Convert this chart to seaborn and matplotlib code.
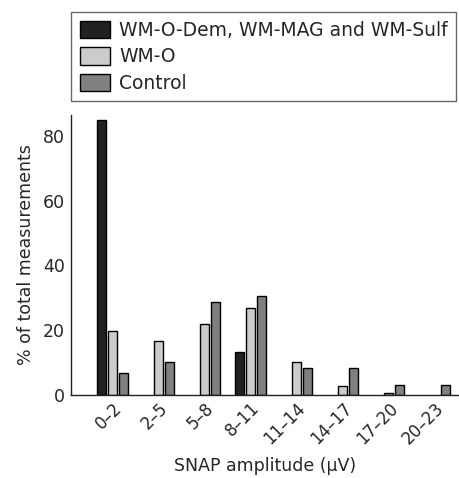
import pandas as pd
import seaborn as sns
import matplotlib.pyplot as plt

ranges = ["0\u20132", "2\u20135", "5\u20138", "8\u201311", "11\u201314", "14\u201317", "17\u201320", "20\u201323"]
groups = ["WM-O-Dem, WM-MAG and WM-Sulf", "WM-O", "Control"]
wm_dem = [85.1, 0, 0, 13.1, 0, 0, 0, 0]
wm_o = [19.6, 16.6, 21.9, 26.9, 10.2, 2.8, 0.6, 0]
control = [6.6, 10.0, 28.8, 30.4, 8.2, 8.2, 3.1, 3.1]
colors = ["#231f20", "#cccccc", "#808080"]

df = pd.concat([
    pd.DataFrame({"range": ranges, "group": g, "pct": v})
    for g, v in zip(groups, [wm_dem, wm_o, control])
])

sns.set_style("white")
plt.rcParams['font.family'] = ['DejaVu Sans']

fig = plt.figure(figsize=(4.6, 4.78), dpi=100)
ax = fig.add_axes([0.1537, 0.1743, 0.846, 0.585])

sns.barplot(data=df, x="range", y="pct", hue="group", hue_order=groups,
            palette=colors, width=0.735, gap=0.22, edgecolor="black",
            linewidth=1, ax=ax, legend=True)

# empty bins show no bar in the original
for cont in ax.containers:
    for p in cont:
        if p.get_height() == 0:
            p.set_visible(False)

ax.set_ylim(0, 86.5)
ax.set_xlim(-0.91, 7.55)
ax.set_yticks([0, 20, 40, 60, 80])
ax.tick_params(axis="y", direction="in", length=10, width=1, color="#333333", labelsize=12.5, pad=4)
ax.tick_params(axis="x", length=0, labelsize=12, pad=3)
for lab in ax.get_xticklabels():
    lab.set_rotation(45)
    lab.set_ha("right")
    lab.set_rotation_mode("anchor")
for s in ["top", "right"]:
    ax.spines[s].set_visible(False)
for s in ["left", "bottom"]:
    ax.spines[s].set_color("#222222")
    ax.spines[s].set_linewidth(1)

ax.set_xlabel("SNAP amplitude (\u03bcV)", fontsize=12.5)
ax.xaxis.set_label_coords(0.5, -0.222)
ax.set_ylabel("% of total measurements", fontsize=12.5, labelpad=6)

handles, labels = ax.get_legend_handles_labels()
ax.legend_.remove()
leg = fig.legend(handles, labels, loc="upper left", bbox_to_anchor=(0.155, 0.974),
                 frameon=True, fancybox=False, fontsize=13.5, handlelength=1.6,
                 handleheight=1.07, handletextpad=0.5, labelspacing=0.38,
                 borderpad=0.45, borderaxespad=0)
leg.get_frame().set_edgecolor("#444444")
leg.get_frame().set_linewidth(1)

fig.savefig("out.png", dpi=100)
